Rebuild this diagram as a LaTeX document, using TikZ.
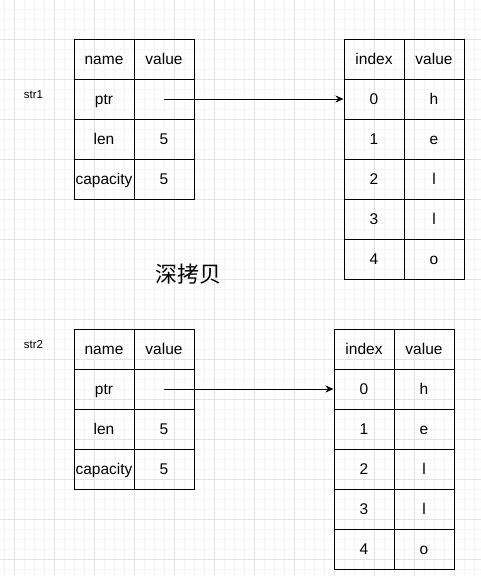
\documentclass[tikz,border=0pt]{standalone}
\usepackage{fontspec}
\setmainfont{Liberation Sans}
\newfontfamily\cjk{Noto Sans CJK SC}
\usetikzlibrary{arrows.meta}
\definecolor{gridminor}{HTML}{F4F4F4}
\definecolor{gridmajor}{HTML}{E2E2E2}
\tikzset{
  cell/.style={draw=black, line width=1pt, minimum width=60pt, minimum height=40pt,
    inner sep=0pt, text height=11pt, text depth=0pt,
    font=\fontsize{15.5}{18}\selectfont, text=black},
  lbl/.style={inner sep=0pt, text height=8.3pt, text depth=0pt,
    font=\fontsize{11.5}{14}\selectfont, text=black},
  title/.style={inner sep=0pt, font=\cjk\fontsize{22}{26}\selectfont, text=black},
  ptrarrow/.style={line width=1pt, -{Stealth[length=8pt,width=7pt,inset=2.5pt]}}
}
\begin{document}
\begin{tikzpicture}[x=1pt,y=-1pt]
\useasboundingbox (0,0) rectangle (481,576);
\fill[white] (0,0) rectangle (481,576);
% grid
\foreach \gx in {4,14,...,474} \draw[gridminor, line width=0.8pt] (\gx,0) -- (\gx,576);
\foreach \gy in {9,19,...,569} \draw[gridminor, line width=0.8pt] (0,\gy) -- (481,\gy);
\foreach \gx in {14,54,...,454} \draw[gridmajor, line width=0.8pt] (\gx,0) -- (\gx,576);
\foreach \gy in {39,79,...,559} \draw[gridmajor, line width=0.8pt] (0,\gy) -- (481,\gy);

% table 1 (str1)
\foreach \n/\v [count=\i from 0] in {name/value, ptr/{}, len/5, capacity/5} {
  \node[cell] (L1-\i-0) at (104, 59+40*\i) {\n};
  \node[cell] (L1-\i-1) at (164, 59+40*\i) {\v};
}
% array 1
\foreach \n/\v [count=\i from 0] in {index/value, 0/h, 1/e, 2/l, 3/l, 4/o} {
  \node[cell] (R1-\i-0) at (374, 59+40*\i) {\n};
  \node[cell] (R1-\i-1) at (434, 59+40*\i) {\v};
}
% table 2 (str2)
\foreach \n/\v [count=\i from 0] in {name/value, ptr/{}, len/5, capacity/5} {
  \node[cell] (L2-\i-0) at (104, 349+40*\i) {\n};
  \node[cell] (L2-\i-1) at (164, 349+40*\i) {\v};
}
% array 2
\foreach \n/\v [count=\i from 0] in {index/value, 0/h, 1/e, 2/l, 3/l, 4/o} {
  \node[cell] (R2-\i-0) at (364, 349+40*\i) {\n};
  \node[cell] (R2-\i-1) at (424, 349+40*\i) {\v};
}

\node[lbl] (s1) at (33.5, 94) {str1};
\node[lbl] (s2) at (33.5, 344) {str2};
\node[title] (t) at (188, 274) {深拷贝};

\coordinate (p1) at (164, 99);
\coordinate (p2) at (164, 389);
\draw[ptrarrow] (p1) -- (R1-1-0.west);
\draw[ptrarrow] (p2) -- (R2-1-0.west);
\end{tikzpicture}
\end{document}
